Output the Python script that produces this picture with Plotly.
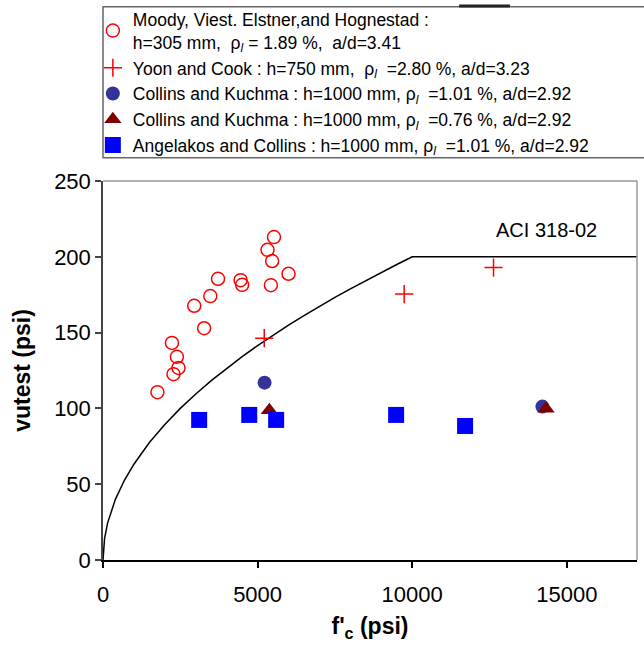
import plotly.graph_objects as go

# Moody, Viest, Elstner and Hognestad
moody_fc = [5530, 5320, 5470, 6000, 3720, 4450, 4500, 5430, 3470, 2950, 3270, 2230, 2390, 2440, 2280, 1760]
moody_v = [213.0, 204.6, 197.2, 188.8, 185.5, 184.6, 181.5, 181.3, 174.1, 167.7, 152.9, 143.2, 134.0, 126.7, 122.6, 110.7]

# Yoon and Cook
yoon_fc = [5215, 9740, 12630]
yoon_v = [146.3, 175.4, 192.9]

# Collins and Kuchma, rho = 1.01 %
ck1_fc = [5225, 14210]
ck1_v = [117.0, 101.2]

# Collins and Kuchma, rho = 0.76 %
ck2_fc = [5380, 14330]
ck2_v = [98.8, 99.7]

# Angelakos and Collins
ac_fc = [3110, 4730, 5600, 9480, 11710]
ac_v = [92.4, 95.7, 92.4, 95.7, 88.4]

# ACI 318-02 shear strength curve (psi)
aci_fc = [0, 50, 150, 400, 700, 1000, 1500, 2000, 2500, 3000, 3500, 4000, 4500,
          5000, 5500, 6000, 6500, 7000, 7500, 8000, 8500, 9000, 9500, 10000, 17300]
aci_v = [0, 14.1, 24.5, 40.0, 52.9, 63.2, 77.5, 89.4, 100.0, 109.5, 118.3, 126.5, 134.2,
         141.4, 148.3, 154.9, 161.2, 167.3, 173.2, 178.9, 184.4, 189.7, 194.9, 200.0, 200.0]

x_ticks = [0, 5000, 10000, 15000]
y_ticks = [0, 50, 100, 150, 200, 250]

FONT = "Liberation Sans, Arial, sans-serif"
NB = "\u00a0"
RHO = "ρ<sub><i>l</i></sub>"

names = [
    f"Moody, Viest. Elstner,and Hognestad :<br>h=305 mm,{NB} {RHO} = 1.89 %,{NB} a/d=3.41",
    f"Yoon and Cook : h=750 mm,{NB} {RHO}{NB} =2.80 %, a/d=3.23",
    f"Collins and Kuchma : h=1000 mm, {RHO}{NB} =1.01 %, a/d=2.92",
    f"Collins and Kuchma : h=1000 mm, {RHO}{NB} =0.76 %, a/d=2.92",
    f"Angelakos and Collins : h=1000 mm, {RHO}{NB} =1.01 %, a/d=2.92",
]

fig = go.Figure()

fig.add_trace(go.Scatter(
    x=aci_fc, y=aci_v, mode="lines", line=dict(color="black", width=1.5),
    showlegend=False, hoverinfo="skip"))

fig.add_trace(go.Scatter(
    x=moody_fc, y=moody_v, mode="markers", name=names[0],
    marker=dict(symbol="circle-open", size=13, color="#FF0000", line=dict(width=1.5))))
fig.add_trace(go.Scatter(
    x=yoon_fc, y=yoon_v, mode="markers", name=names[1],
    marker=dict(symbol="cross-thin-open", size=13, color="#FF0000", line=dict(width=1.5, color="#FF0000"))))
fig.add_trace(go.Scatter(
    x=ck1_fc, y=ck1_v, mode="markers", name=names[2],
    marker=dict(symbol="circle", size=14, color="#333399")))
fig.add_trace(go.Scatter(
    x=ck2_fc, y=ck2_v, mode="markers", name=names[3],
    marker=dict(symbol="triangle-up", size=15, color="#800000")))
fig.add_trace(go.Scatter(
    x=ac_fc, y=ac_v, mode="markers", name=names[4],
    marker=dict(symbol="square", size=16, color="#0000FF")))

fig.add_annotation(x=14330, y=217.8, xref="x", yref="y", text="ACI 318-02",
                   showarrow=False, yanchor="middle", xanchor="center",
                   font=dict(family=FONT, size=20, color="black"))

# legend frame
fig.add_shape(type="rect", xref="paper", yref="paper", x0=0, x1=1.03, y0=1.0615, y1=1.460,
              line=dict(color="#666666", width=1.5), fillcolor="white", layer="below")
# thicker dark segment on the legend frame's top edge
fig.add_shape(type="line", xref="paper", yref="paper", x0=0.667, x1=0.762, y0=1.4615, y1=1.4615,
              line=dict(color="#222222", width=3))

# top and right frame lines
fig.add_shape(type="line", xref="paper", yref="paper", x0=0, x1=1, y0=1, y1=1,
              line=dict(color="#999999", width=1.5))
fig.add_shape(type="line", xref="paper", yref="paper", x0=1, x1=1, y0=0, y1=1,
              line=dict(color="#999999", width=1.5))

fig.update_layout(
    width=644, height=650,
    margin=dict(l=103, r=7, t=181, b=90, autoexpand=False),
    paper_bgcolor="white", plot_bgcolor="white",
    font=dict(family=FONT, size=20, color="black"),
    legend=dict(
        x=-0.019, y=1.474, xanchor="left", yanchor="top",
        bgcolor="rgba(0,0,0,0)", borderwidth=0,
        font=dict(family=FONT, size=17.5, color="black"),
        tracegroupgap=0, itemwidth=30,
    ),
    xaxis=dict(
        range=[0, 17270], tickvals=x_ticks, ticktext=[str(t) for t in x_ticks],
        showgrid=False, zeroline=False, showline=True, linecolor="black", linewidth=1.5,
        ticks="outside", ticklen=6, tickcolor="black", tickwidth=1.5,
        tickfont=dict(family=FONT, size=22), ticklabelstandoff=8,
        title=dict(text="<b>f'<sub>c</sub> (psi)</b>", font=dict(family=FONT, size=23), standoff=12),
    ),
    yaxis=dict(
        range=[0, 250], tickvals=y_ticks,
        showgrid=False, zeroline=False, showline=True, linecolor="#444444", linewidth=1.5,
        ticks="outside", ticklen=6, tickcolor="#444444", tickwidth=1.5,
        tickfont=dict(family=FONT, size=22),
        title=dict(text="<b>vutest (psi)</b>", font=dict(family=FONT, size=23), standoff=17),
    ),
)

fig.write_html("out.html")
